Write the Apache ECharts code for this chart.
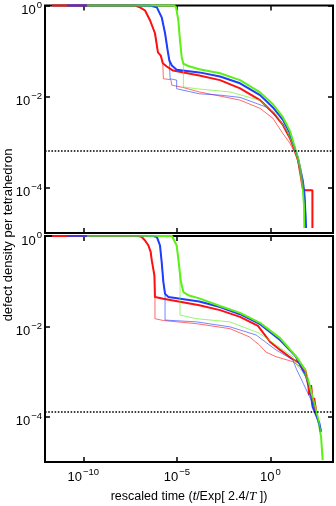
<!DOCTYPE html>
<html>
<head>
<meta charset="utf-8">
<script src="https://cdn.jsdelivr.net/npm/echarts@6/dist/echarts.min.js"></script>
<style>html,body{margin:0;padding:0;background:#fff}#c{width:336px;height:506px}</style>
</head>
<body>
<div id="c"></div>
<script>
// All points are [log10(rescaled time), log10(defect density per tetrahedron)]
// ---------- top panel ----------
const topRedThick = [[-11.67,0],[-7.24,0],[-6.97,-0.04],[-6.70,-0.11],[-6.43,-0.33],[-6.17,-0.61],[-6.01,-1.03],[-5.86,-1.10],[-5.75,-1.27],[-5.54,-1.34],[-5.20,-1.43],[-3.80,-1.54],[-2.69,-1.64],[-1.62,-1.82],[-0.55,-2.08],[0.14,-2.35],[0.68,-2.63],[1.05,-2.92],[1.32,-3.20],[1.48,-3.40],[1.59,-3.66],[1.75,-4.06],[2.25,-4.06],[2.25,-4.89]];
const topRedThin = [[-11.67,0],[-7.24,0],[-6.97,-0.04],[-6.70,-0.11],[-6.43,-0.33],[-6.17,-0.61],[-6.01,-1.03],[-5.86,-1.10],[-5.75,-1.27],[-5.72,-1.61],[-5.32,-1.63],[-5.27,-1.75],[-4.68,-1.80],[-3.80,-1.90],[-2.69,-1.99],[-1.62,-2.08],[-0.55,-2.26],[0.14,-2.48],[0.63,-2.79],[1.05,-3.03],[1.37,-3.29],[1.59,-3.60],[1.75,-4.01],[1.91,-4.06],[2.25,-4.06],[2.25,-4.89]];
const topBlueThick = [[-10.87,0],[-6.44,0],[-6.07,-0.04],[-5.81,-0.26],[-5.63,-0.61],[-5.49,-0.99],[-5.40,-1.21],[-5.27,-1.32],[-5.01,-1.41],[-3.80,-1.47],[-2.69,-1.56],[-1.62,-1.71],[-0.55,-1.97],[0.14,-2.24],[0.68,-2.52],[1.05,-2.81],[1.32,-3.16],[1.48,-3.36],[1.59,-3.57],[1.73,-3.84],[1.82,-4.12],[1.88,-4.61],[1.91,-4.89]];
const topBlueThin = [[-10.87,0],[-6.44,0],[-6.07,-0.04],[-5.81,-0.26],[-5.63,-0.61],[-5.49,-0.99],[-5.40,-1.21],[-5.36,-1.61],[-5.01,-1.64],[-5.01,-1.83],[-3.80,-1.94],[-2.69,-1.97],[-1.62,-2.02],[-0.23,-2.23],[0.66,-2.59],[1.05,-2.89],[1.37,-3.22],[1.59,-3.57],[1.75,-3.95],[1.86,-4.28],[1.91,-4.89]];
const topGreenThick = [[-9.80,0],[-5.15,0],[-5.04,-0.04],[-4.92,-0.33],[-4.83,-0.77],[-4.74,-1.13],[-4.65,-1.28],[-4.39,-1.33],[-3.80,-1.40],[-2.69,-1.49],[-1.62,-1.64],[-0.55,-1.91],[0.14,-2.17],[0.68,-2.46],[1.05,-2.76],[1.32,-3.14],[1.48,-3.36],[1.59,-3.57],[1.73,-3.97],[1.80,-4.39],[1.82,-4.89]];
const topGreenThin = [[-9.80,0],[-5.15,0],[-5.04,-0.04],[-4.92,-0.33],[-4.83,-0.77],[-4.74,-1.13],[-4.65,-1.28],[-4.65,-1.79],[-3.94,-1.83],[-2.16,-1.90],[-0.59,-2.08],[0.30,-2.39],[0.89,-2.76],[1.32,-3.18],[1.59,-3.57],[1.75,-4.04],[1.82,-4.89]];
const topThreshold = -3.20;
// ---------- bottom panel ----------
const botRedThick = [[-11.67,0],[-7.07,0],[-6.88,-0.02],[-6.70,-0.10],[-6.52,-0.21],[-6.40,-0.35],[-6.34,-0.54],[-6.26,-0.58],[-6.20,-0.87],[-6.17,-1.35],[-5.72,-1.39],[-3.80,-1.53],[-2.69,-1.64],[-1.62,-1.79],[-0.66,-1.99],[-0.37,-2.15],[-0.02,-2.34],[0.52,-2.52],[1.14,-2.71],[1.59,-2.82],[1.86,-2.96],[2.04,-3.33],[2.07,-3.52],[2.18,-3.30],[2.28,-3.74],[2.34,-3.58],[2.44,-3.85]];
const botRedThin = [[-11.67,0],[-7.07,0],[-6.88,-0.02],[-6.70,-0.10],[-6.52,-0.21],[-6.40,-0.35],[-6.34,-0.54],[-6.26,-0.58],[-6.20,-0.87],[-6.17,-1.35],[-6.17,-1.83],[-5.72,-1.87],[-3.94,-1.94],[-2.16,-2.05],[-1.13,-2.23],[-0.59,-2.41],[-0.23,-2.57],[0.30,-2.67],[1.20,-2.78],[1.59,-2.89],[1.91,-3.01],[2.07,-3.45],[2.28,-3.63],[2.40,-3.88]];
const botBlueThick = [[-10.87,0],[-6.27,0],[-6.07,-0.02],[-5.90,-0.21],[-5.81,-0.58],[-5.72,-1.02],[-5.63,-1.28],[-5.45,-1.35],[-3.80,-1.45],[-2.69,-1.57],[-1.62,-1.73],[-0.55,-1.95],[0.52,-2.30],[1.37,-2.67],[1.91,-3.11],[2.12,-3.36],[2.26,-3.78],[2.44,-3.96],[2.62,-4.14],[2.71,-4.33]];
const botBlueThin = [[-10.87,0],[-6.27,0],[-6.07,-0.02],[-5.90,-0.21],[-5.81,-0.58],[-5.72,-1.02],[-5.63,-1.28],[-5.63,-1.86],[-3.94,-1.90],[-2.16,-2.01],[-0.76,-2.19],[0.30,-2.52],[1.20,-2.74],[1.41,-2.96],[1.76,-3.26],[2.26,-3.70],[2.62,-4.22],[2.66,-4.34]];
const botGreenThick = [[-9.80,0],[-5.26,0],[-5.01,-0.21],[-4.88,-0.65],[-4.78,-1.02],[-4.65,-1.24],[-4.39,-1.31],[-3.80,-1.38],[-2.69,-1.55],[-1.62,-1.70],[-0.55,-1.92],[0.52,-2.26],[1.41,-2.68],[1.86,-2.96],[2.12,-3.33],[2.26,-3.58],[2.53,-4.00],[2.71,-4.44],[2.80,-4.96]];
const botGreenThin = [[-9.80,0],[-5.26,0],[-5.01,-0.21],[-4.88,-0.65],[-4.83,-1.02],[-4.83,-1.75],[-3.94,-1.83],[-2.16,-1.90],[-0.59,-2.15],[0.30,-2.41],[1.20,-2.67],[1.41,-2.85],[1.86,-3.08],[2.12,-3.33],[2.53,-4.00]];
const botThreshold = -3.89;
// ---------- axes ----------
const xRange = [-12.05, 3.35];
const yRange = [-5, 0];
const xTickExps = [-10, -5, 0];
const yTickExps = [-4, -2, 0];

const FONT = 'Liberation Sans';
const RED = '#ff1010', BLUE = '#1f3dff', GREEN = '#5cf016';

function expLabel(v) {
  const e = Math.round(v);
  return '{b|10}{s|' + (e < 0 ? '\u2212' + (-e) : String(e)) + '}';
}
const labelRich = {
  b: { fontSize: 13, fontFamily: FONT, color: '#000', lineHeight: 17, verticalAlign: 'bottom' },
  s: { fontSize: 9.5, fontFamily: FONT, color: '#000', lineHeight: 11, verticalAlign: 'top', padding: [0, 0, 0, 1] }
};

function xAx(gi, pos, withLabels) {
  const a = {
    type: 'value', gridIndex: gi, position: pos, min: xRange[0], max: xRange[1],
    axisLine: { show: false, onZero: false }, splitLine: { show: false },
    axisTick: { show: true, inside: true, length: 5, customValues: xTickExps, lineStyle: { color: '#000', width: 1.5 } },
    axisLabel: { show: false }
  };
  if (withLabels) {
    a.axisLabel = { show: true, customValues: xTickExps, formatter: expLabel, rich: labelRich, margin: 5 };
    a.name = '{n|rescaled time (}{i|t}{n|/Exp[ 2.4/}{T|T}{n| ])}';
    a.nameLocation = 'middle';
    a.nameGap = 28;
    a.nameTextStyle = { rich: {
      n: { fontSize: 12.5, fontFamily: FONT, color: '#000' },
      i: { fontSize: 12.5, fontFamily: FONT, fontStyle: 'italic', color: '#000' },
      T: { fontSize: 13, fontFamily: 'Liberation Serif', fontStyle: 'italic', color: '#000' }
    } };
  }
  return a;
}
function yAx(gi, pos, withLabels) {
  const a = {
    type: 'value', gridIndex: gi, position: pos, min: yRange[0], max: yRange[1],
    axisLine: { show: false, onZero: false }, splitLine: { show: false },
    axisTick: { show: true, inside: true, length: 5, customValues: yTickExps, lineStyle: { color: '#000', width: 1.5 } },
    axisLabel: { show: false }
  };
  if (withLabels) {
    a.axisLabel = { show: true, customValues: yTickExps, formatter: expLabel, rich: labelRich, margin: 3, padding: [6, 0, 0, 0] };
  }
  return a;
}
function line(data, gi, color, thick, extra) {
  const s = {
    type: 'line', data: data, xAxisIndex: gi * 2, yAxisIndex: gi * 2,
    showSymbol: false, symbol: 'none', clip: false, silent: true,
    lineStyle: { color: color, width: thick ? 2 : 1, opacity: thick ? 1 : 0.62 },
    z: thick ? 3 : 4
  };
  return Object.assign(s, extra || {});
}
function threshold(v) {
  return { markLine: { silent: true, symbol: 'none', label: { show: false },
    lineStyle: { color: '#000', type: [1.6, 1.6], width: 1.5 }, data: [{ yAxis: v }] } };
}

const chart = echarts.init(document.getElementById('c'), null, { renderer: 'canvas' });
chart.setOption({
  animation: false,
  backgroundColor: '#fff',
  grid: [
    { left: 45, top: 5, width: 288, height: 228, show: true, borderColor: '#000', borderWidth: 2, backgroundColor: 'transparent' },
    { left: 45, top: 236, width: 288, height: 226, show: true, borderColor: '#000', borderWidth: 2, backgroundColor: 'transparent' }
  ],
  xAxis: [xAx(0, 'bottom', false), xAx(0, 'top', false), xAx(1, 'bottom', true), xAx(1, 'top', false)],
  yAxis: [yAx(0, 'left', true), yAx(0, 'right', false), yAx(1, 'left', true), yAx(1, 'right', false)],
  graphic: [{
    type: 'text', x: 8, y: 235, rotation: Math.PI / 2,
    style: { text: 'defect density per tetrahedron', fontSize: 13, fontFamily: FONT, fill: '#000', align: 'center', verticalAlign: 'middle' }
  }],
  series: [
    line(topRedThick, 0, RED, true, threshold(topThreshold)),
    line(topRedThin, 0, RED, false),
    line(topBlueThick, 0, BLUE, true),
    line(topBlueThin, 0, BLUE, false),
    line(topGreenThick, 0, GREEN, true),
    line(topGreenThin, 0, GREEN, false),
    line(botRedThick, 1, RED, true, threshold(botThreshold)),
    line(botRedThin, 1, RED, false),
    line(botBlueThick, 1, BLUE, true),
    line(botBlueThin, 1, BLUE, false),
    line(botGreenThick, 1, GREEN, true),
    line(botGreenThin, 1, GREEN, false)
  ]
});
</script>
</body>
</html>
